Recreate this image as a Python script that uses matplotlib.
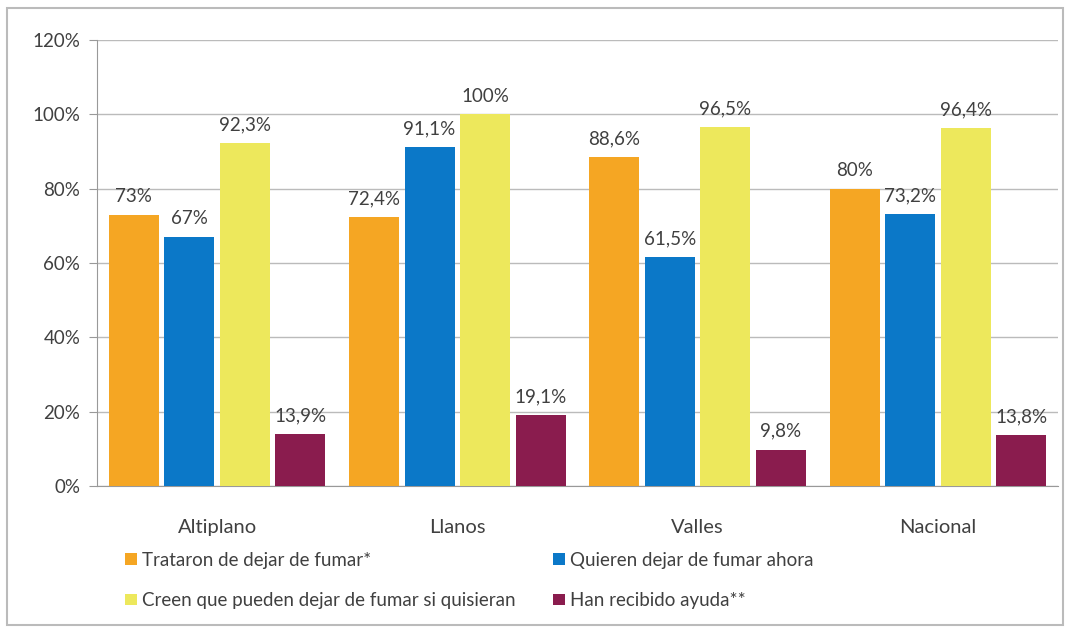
import numpy as np
import matplotlib
matplotlib.use('Agg')
import matplotlib.pyplot as plt
from matplotlib.patches import Rectangle

regiones = ['Altiplano', 'Llanos', 'Valles', 'Nacional']
series = ['Trataron de dejar de fumar*', 'Quieren dejar de fumar ahora',
          'Creen que pueden dejar de fumar si quisieran', 'Han recibido ayuda**']
trataron = [73, 72.4, 88.6, 80]
quieren = [67, 91.1, 61.5, 73.2]
creen = [92.3, 100, 96.5, 96.4]
ayuda = [13.9, 19.1, 9.8, 13.8]
etiquetas = [['73%', '72,4%', '88,6%', '80%'],
             ['67%', '91,1%', '61,5%', '73,2%'],
             ['92,3%', '100%', '96,5%', '96,4%'],
             ['13,9%', '19,1%', '9,8%', '13,8%']]
colores = ['#F5A623', '#0B78C8', '#EDE85C', '#8A1C4E']

plt.rcParams['font.family'] = ['Lato', 'DejaVu Sans']
gris = '#404040'
fs = 13.5

fig = plt.figure(figsize=(10.73, 6.32), dpi=100)
ax = fig.add_axes([0.0904, 0.231, 0.8956, 0.7057])

x = np.arange(len(regiones))
ancho = 0.208
paso = 0.231
valores = [trataron, quieren, creen, ayuda]
barras = []
for i, vals in enumerate(valores):
    pos = x + (i - 1.5) * paso
    b = ax.bar(pos, vals, width=ancho, color=colores[i], label=series[i], zorder=3)
    barras.append(b)
    for p, v, t in zip(pos, vals, etiquetas[i]):
        ax.annotate(t, (p, v), xytext=(0, 7), textcoords='offset points',
                    ha='center', va='bottom', fontsize=fs, color=gris)

ax.set_xlim(-0.5, 3.5)
ax.set_ylim(0, 120)
ax.set_yticks(range(0, 121, 20))
ax.set_yticklabels([f'{v}%' for v in range(0, 121, 20)], fontsize=fs, color=gris)
ax.set_xticks(x)
ax.set_xticklabels(regiones, fontsize=14.5, color=gris)
ax.tick_params(axis='x', length=0, pad=24)
ax.tick_params(axis='y', length=6, color='#999999', pad=6)
ax.grid(axis='y', color='#bbbbbb', linewidth=1, zorder=0)
for s in ['top', 'right']:
    ax.spines[s].set_visible(False)
for s in ['left', 'bottom']:
    ax.spines[s].set_color('#999999')

# orden por filas: columna 1 = series 0 y 2, columna 2 = series 1 y 3
orden = [0, 2, 1, 3]
fig.legend([barras[k] for k in orden], [series[k] for k in orden],
           loc='upper left', bbox_to_anchor=(0.108, 0.142), ncol=2, frameon=False,
           fontsize=fs, handlelength=0.6, handleheight=0.6, handletextpad=0.3,
           labelspacing=1.25, columnspacing=2.0, borderpad=0,
           labelcolor=gris)

fig.patches.append(Rectangle((0.0065, 0.011), 0.984, 0.977, transform=fig.transFigure,
                             fill=False, edgecolor='#bbbbbb', linewidth=1.5))

fig.savefig('out.png', dpi=100)
